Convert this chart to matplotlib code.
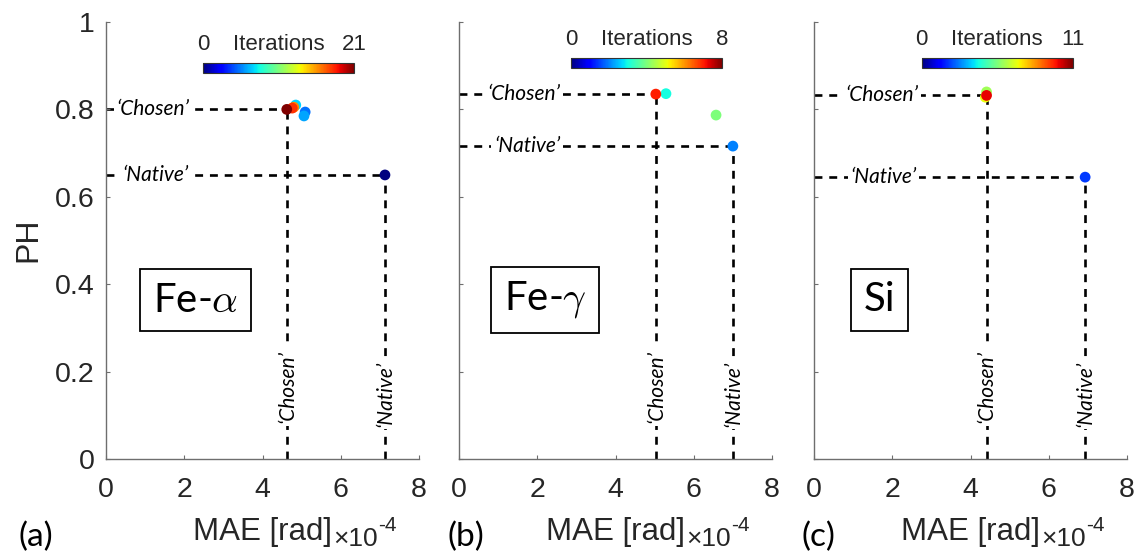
import numpy as np
import matplotlib
matplotlib.use('Agg')
import matplotlib.pyplot as plt
import matplotlib as mpl

plt.rcParams['font.family'] = ['Liberation Sans', 'DejaVu Sans']
plt.rcParams['mathtext.fontset'] = 'cm'

# data: MAE [x1e-4 rad], PH, iteration number
materials = ['Fe-$\\alpha$', 'Fe-$\\gamma$', 'Si']
panel_tags = ['(a)', '(b)', '(c)']
max_iter = [21, 8, 11]

a_mae = [7.13, 5.09, 5.06, 4.85, 4.80, 4.76, 4.62]
a_ph = [0.650, 0.794, 0.785, 0.810, 0.805, 0.803, 0.800]
a_it = [0, 5, 6, 7, 16, 18, 21]

b_mae = [7.00, 6.57, 5.29, 5.03]
b_ph = [0.716, 0.787, 0.836, 0.835]
b_it = [2, 4, 3, 7]

c_mae = [6.93, 4.41, 4.38, 4.41]
c_ph = [0.645, 0.840, 0.828, 0.832]
c_it = [2, 6, 7, 10]

xticks = [0, 2, 4, 6, 8]
yticks = [0, 0.2, 0.4, 0.6, 0.8, 1]
ytick_labels = ['0', '0.2', '0.4', '0.6', '0.8', '1']

series = [(a_mae, a_ph, a_it), (b_mae, b_ph, b_it), (c_mae, c_ph, c_it)]

# layout (pixels of a 1136x555 figure)
W, H = 1136, 555
ax_left = [106, 459, 814]
ax_w = 313
ax_bottom, ax_top = 459, 22
cbar_pos = [(0.31, 0.883), (0.358, 0.895), (0.344, 0.895)]
box_pos = [(2.28, 0.364), (2.2, 0.364), (1.68, 0.364)]
hlab_x = [(1.2, 1.27), (1.66, 1.74), (1.73, 1.78)]
tag_x = [36, 466, 818]

fig = plt.figure(figsize=(W / 100, H / 100), dpi=100)
axis_col = '#6e6e6e'
txt_col = '#262626'
dash = (0, (3, 2.6))

for k in range(3):
    mae, ph, it = [np.array(v, dtype=float) for v in series[k]]
    ax = fig.add_axes([ax_left[k] / W, (H - ax_bottom) / H, ax_w / W, (ax_bottom - ax_top) / H])
    ax.set_xlim(0, 8)
    ax.set_ylim(0, 1)
    for s in ['top', 'right']:
        ax.spines[s].set_visible(False)
    for s in ['left', 'bottom']:
        ax.spines[s].set_color(axis_col)
        ax.spines[s].set_linewidth(1.0)
    ax.set_xticks(xticks)
    ax.set_yticks(yticks)
    ax.tick_params(direction='in', length=3, width=0.8, color=axis_col,
                   labelcolor=txt_col, labelsize=20.5)
    ax.tick_params(axis='x', pad=13)
    ax.tick_params(axis='y', pad=8)
    if k == 0:
        ax.set_yticklabels(ytick_labels)
    else:
        ax.set_yticklabels([])

    # chosen = last iteration, native = first
    ic = np.argmax(it)
    iN = np.argmin(it)
    for idx in (ic, iN):
        ax.plot([0, mae[idx]], [ph[idx], ph[idx]], color='k', lw=1.9, ls=dash, zorder=1,
                clip_on=False)
        ax.plot([mae[idx], mae[idx]], [0, ph[idx]], color='k', lw=1.9, ls=dash, zorder=1,
                clip_on=False)

    lab_kw = dict(fontfamily='Lato', style='italic', fontsize=15, color='k', zorder=3,
                  ha='center', va='center',
                  bbox=dict(fc='white', ec='none', pad=2))
    ax.text(hlab_x[k][0], ph[ic], '\u2018Chosen\u2019', **lab_kw)
    ax.text(hlab_x[k][1], ph[iN], '\u2018Native\u2019', **lab_kw)
    ax.text(mae[ic], 0.165, '\u2018Chosen\u2019', rotation=90, **lab_kw)
    ax.text(mae[iN], 0.15, '\u2018Native\u2019', rotation=90, **lab_kw)

    order = np.argsort(it)
    sc = ax.scatter(mae[order], ph[order], c=it[order], cmap='jet', vmin=0, vmax=max_iter[k],
                    s=60, edgecolors='none', zorder=4, clip_on=False)

    # material box
    ax.text(box_pos[k][0], box_pos[k][1], materials[k], fontfamily='Lato', fontsize=29,
            ha='center', va='center', color='k',
            bbox=dict(boxstyle='square,pad=0.32', fc='white', ec='k', lw=1.3))

    # colorbar
    cax = ax.inset_axes([cbar_pos[k][0], cbar_pos[k][1], 0.482, 0.023])
    cb = fig.colorbar(sc, cax=cax, orientation='horizontal', ticks=[0, max_iter[k]])
    cb.outline.set_linewidth(0.8)
    cb.outline.set_edgecolor('#333333')
    cax.xaxis.set_ticks_position('top')
    cax.tick_params(length=0, pad=6, labelsize=16, labelcolor=txt_col)
    cax.annotate('Iterations', xy=(0.5, 1), xycoords='axes fraction', xytext=(0, 6),
                 textcoords='offset points', ha='center', va='bottom', fontsize=16,
                 color=txt_col)

    # x label with exponent
    xl = ax.set_xlabel('MAE [rad]', fontsize=22.5, color=txt_col)
    ax.xaxis.set_label_coords(0.5, -0.133)
    t10 = ax.annotate('\u00d710', xy=(1, 0), xycoords=xl, xytext=(1, -3),
                      textcoords='offset points', ha='left', va='bottom', fontsize=19,
                      color=txt_col)
    ax.annotate('-4', xy=(1, 1), xycoords=t10, xytext=(0, 8), textcoords='offset points',
                ha='left', va='top', fontsize=15, color=txt_col)

    fig.text(tag_x[k] / W, (H - 537) / H, panel_tags[k], fontfamily='Lato', fontsize=24,
             ha='center', va='center', color='k')

fig.text(28 / W, (H - 240) / H, 'PH', rotation=90, ha='center', va='center', fontsize=23,
         color=txt_col)

fig.savefig('out.png', dpi=100)
